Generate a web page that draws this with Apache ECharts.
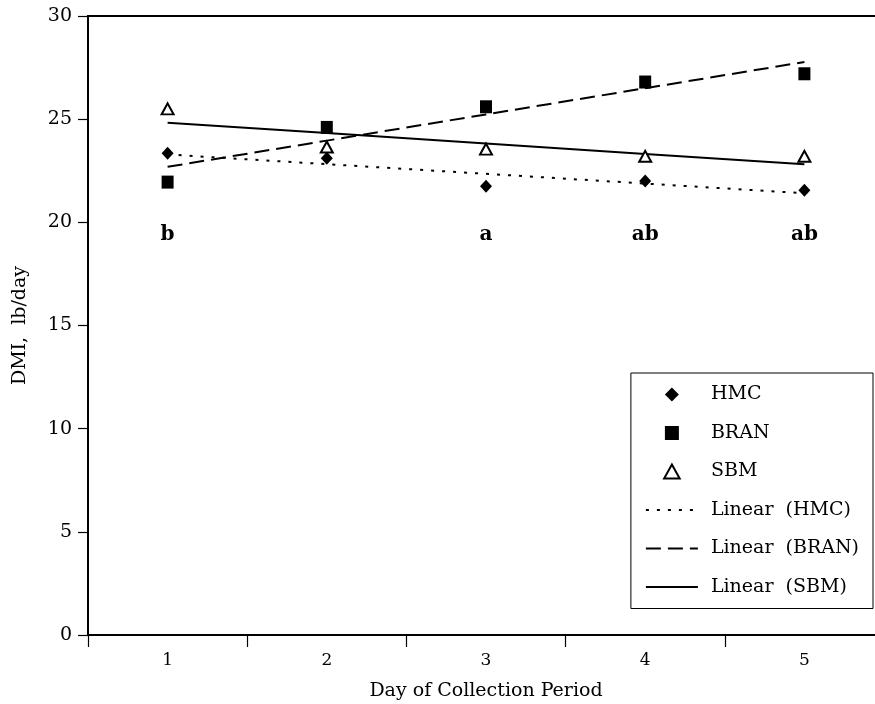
<!DOCTYPE html>
<html>
<head>
<meta charset="utf-8">
<script src="https://cdn.jsdelivr.net/npm/echarts@6/dist/echarts.min.js"></script>
<style>
  html, body { margin: 0; padding: 0; background: #fff; }
  #chart { width: 875px; height: 704px; }
</style>
</head>
<body>
<div id="chart"></div>
<script>
// ---- Data ----
const days = ['1', '2', '3', '4', '5'];
const hmc  = [23.35, 23.1, 21.75, 22.0, 21.55];
const bran = [21.95, 24.6, 25.6, 26.8, 27.2];
const sbm  = [25.5, 23.65, 23.55, 23.2, 23.2];
const sigLetters = ['b', '', 'a', 'ab', 'ab'];
const yTicks = { min: 0, max: 30, interval: 5 };

// Excel-style linear trendline computed from a series
function linearFit(vals) {
  const n = vals.length;
  const xs = vals.map((_, i) => i + 1);
  const mx = xs.reduce((a, b) => a + b, 0) / n;
  const my = vals.reduce((a, b) => a + b, 0) / n;
  let num = 0, den = 0;
  for (let i = 0; i < n; i++) { num += (xs[i] - mx) * (vals[i] - my); den += (xs[i] - mx) ** 2; }
  const slope = num / den, icpt = my - slope * mx;
  return xs.map(x => +(icpt + slope * x).toFixed(4));
}

const FONT = 'DejaVu Serif';
const LETTER_Y = 19.4; // vertical placement of significance letters

const chart = echarts.init(document.getElementById('chart'), null, { renderer: 'canvas' });

const hidden = { opacity: 0 };
const option = {
  animation: false,
  backgroundColor: '#fff',
  textStyle: { fontFamily: FONT, color: '#000' },
  grid: {
    left: 88, width: 796, top: 16, bottom: 69,
    outerBoundsMode: 'none',
    containLabel: false,
    show: true, borderColor: '#000', borderWidth: 2, backgroundColor: 'transparent'
  },
  xAxis: {
    type: 'category',
    data: days,
    boundaryGap: true,
    axisLine: { lineStyle: { color: '#000', width: 2 } },
    axisTick: { show: true, length: 12, lineStyle: { color: '#000', width: 1.2 } },
    axisLabel: { color: '#000', fontFamily: FONT, fontSize: 17, margin: 17 },
    splitLine: { show: false },
    name: 'Day of Collection Period',
    nameLocation: 'middle',
    nameGap: 47,
    nameTextStyle: { color: '#000', fontFamily: FONT, fontSize: 19 }
  },
  yAxis: {
    type: 'value',
    min: yTicks.min, max: yTicks.max, interval: yTicks.interval,
    axisLine: { show: true, lineStyle: { color: '#000', width: 2 } },
    axisTick: { show: true, length: 10, lineStyle: { color: '#000', width: 1.2 } },
    axisLabel: { color: '#000', fontFamily: FONT, fontSize: 19, margin: 16 },
    splitLine: { show: false },
    name: 'DMI,  lb/day',
    nameLocation: 'middle',
    nameRotate: 90,
    nameGap: 58,
    nameTextStyle: { color: '#000', fontFamily: FONT, fontSize: 19 }
  },
  legend: {
    orient: 'vertical',
    right: 2, top: 373,
    padding: [12, 14, 12, 14],
    itemGap: 19.5,
    itemWidth: 52,
    itemHeight: 14,
    symbolKeepAspect: true,
    borderColor: '#000', borderWidth: 1,
    backgroundColor: '#fff',
    textStyle: { fontFamily: FONT, fontSize: 19, color: '#000', padding: [0, 0, 0, 8] },
    data: [
      { name: 'HMC', icon: 'path://M5,0L10,5L5,10L0,5Z' },
      { name: 'BRAN', icon: 'path://M0,0L10,0L10,10L0,10Z' },
      { name: 'SBM', icon: 'path://M5,0L10,9L0,9Z' },
      { name: 'Linear  (HMC)', itemStyle: hidden },
      { name: 'Linear  (BRAN)', itemStyle: hidden },
      { name: 'Linear  (SBM)', itemStyle: hidden }
    ]
  },
  series: [
    {
      name: 'HMC', type: 'scatter', data: hmc,
      symbol: 'diamond', symbolSize: [12, 13],
      itemStyle: { color: '#000', opacity: 1 }, z: 5
    },
    {
      name: 'BRAN', type: 'scatter', data: bran,
      symbol: 'rect', symbolSize: [12, 13],
      itemStyle: { color: '#000', opacity: 1 }, z: 5
    },
    {
      name: 'SBM', type: 'scatter', data: sbm,
      symbol: 'triangle', symbolSize: [12, 11],
      itemStyle: { color: '#fff', borderColor: '#000', borderWidth: 2, opacity: 1 }, z: 5
    },
    {
      name: 'Linear  (HMC)', type: 'line', data: linearFit(hmc),
      symbol: 'none', showSymbol: false,
      lineStyle: { color: '#000', width: 2, type: [3, 8] },
      itemStyle: { color: '#000' }, z: 3
    },
    {
      name: 'Linear  (BRAN)', type: 'line', data: linearFit(bran),
      symbol: 'none', showSymbol: false,
      lineStyle: { color: '#000', width: 2, type: [15, 7] },
      itemStyle: { color: '#000' }, z: 3
    },
    {
      name: 'Linear  (SBM)', type: 'line', data: linearFit(sbm),
      symbol: 'none', showSymbol: false,
      lineStyle: { color: '#000', width: 2, type: 'solid' },
      itemStyle: { color: '#000' }, z: 3
    },
    {
      name: 'letters', type: 'scatter',
      data: sigLetters.map((t, i) => t ? { value: [i, LETTER_Y], label: { formatter: t } } : null).filter(Boolean),
      symbolSize: 0,
      silent: true,
      itemStyle: { opacity: 1 },
      label: {
        show: true, position: 'inside',
        fontFamily: FONT, fontSize: 20, fontWeight: 'bold', color: '#000'
      },
      z: 4
    }
  ]
};

chart.setOption(option);
</script>
</body>
</html>
